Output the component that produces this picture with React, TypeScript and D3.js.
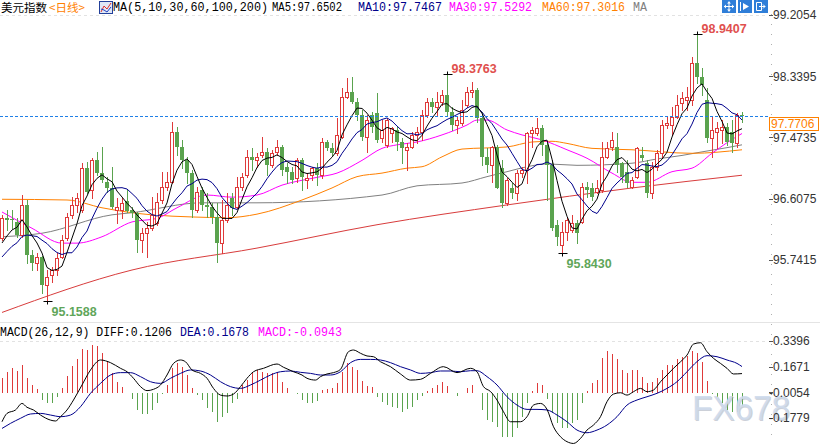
import React from 'react';
import * as d3 from 'd3';

const W = 820;
const H = 444;

// daily bars, left to right: [open, high, low, close]
const ohlc: [number, number, number, number][] = [
  [96.05, 96.38, 96.02, 96.33], [96.33, 96.45, 96.17, 96.31], [96.32, 96.45, 96.19, 96.30], [96.28, 96.33, 96.07, 96.10],
  [96.10, 96.66, 96.07, 96.52], [96.52, 96.59, 95.70, 95.81], [95.81, 95.88, 95.60, 95.70], [95.70, 95.84, 95.60, 95.78],
  [95.78, 95.80, 95.27, 95.39], [95.39, 95.60, 95.1588, 95.50], [95.53, 95.64, 95.43, 95.60], [95.60, 95.84, 95.53, 95.77],
  [95.78, 96.09, 95.77, 96.02], [96.05, 96.40, 96.02, 96.35], [96.38, 96.63, 96.33, 96.52], [96.52, 96.69, 96.42, 96.62],
  [96.45, 97.11, 96.42, 97.04], [97.04, 97.13, 96.69, 96.70], [96.73, 97.18, 96.62, 97.15], [97.15, 97.27, 96.94, 96.97],
  [96.97, 97.34, 96.84, 96.87], [96.84, 96.92, 96.70, 96.76], [96.76, 97.06, 96.48, 96.49], [96.45, 96.62, 96.26, 96.49],
  [96.45, 96.62, 96.33, 96.55], [96.58, 96.73, 96.42, 96.43], [96.45, 96.49, 96.35, 96.40], [96.40, 96.42, 95.85, 96.02],
  [96.02, 96.19, 95.85, 96.12], [96.12, 96.28, 95.78, 96.19], [96.19, 96.63, 96.17, 96.38], [96.26, 96.69, 96.24, 96.56],
  [96.59, 96.99, 96.55, 96.77], [96.77, 96.99, 96.73, 96.84], [96.84, 97.69, 96.83, 97.55], [97.55, 97.62, 97.23, 97.34],
  [97.34, 97.44, 97.04, 97.15], [97.15, 97.20, 96.83, 96.97], [96.97, 97.01, 96.35, 96.45], [96.45, 96.77, 96.42, 96.70],
  [96.73, 96.77, 96.45, 96.52], [96.52, 96.69, 96.35, 96.49], [96.49, 96.55, 96.26, 96.35], [96.35, 96.55, 95.71, 95.98],
  [95.98, 96.59, 95.84, 96.31], [96.31, 96.69, 96.28, 96.52], [96.62, 96.69, 96.38, 96.48], [96.49, 96.91, 96.48, 96.77],
  [96.77, 96.97, 96.73, 96.91], [96.94, 97.30, 96.91, 97.20], [97.20, 97.32, 97.01, 97.16], [97.16, 97.25, 97.06, 97.20],
  [97.23, 97.48, 97.20, 97.27], [97.27, 97.32, 96.94, 97.08], [97.08, 97.30, 97.06, 97.25], [97.27, 97.44, 97.23, 97.34],
  [97.34, 97.37, 96.94, 97.01], [97.06, 97.11, 96.83, 96.99], [96.99, 97.06, 96.83, 96.87], [96.90, 97.18, 96.84, 97.15],
  [97.15, 97.18, 96.73, 96.91], [96.87, 96.97, 96.76, 96.90], [96.94, 97.06, 96.87, 97.04], [97.04, 97.11, 96.80, 96.94],
  [96.94, 97.47, 96.90, 97.41], [97.41, 97.44, 97.30, 97.33], [97.33, 97.40, 97.23, 97.25], [97.25, 97.75, 97.23, 97.51],
  [97.48, 98.17, 97.47, 98.05], [98.05, 98.32, 98.03, 98.12], [98.12, 98.33, 97.96, 97.98], [97.98, 98.03, 97.72, 97.79],
  [97.79, 97.86, 97.44, 97.48], [97.48, 97.79, 97.27, 97.72], [97.79, 97.83, 97.55, 97.62], [97.82, 98.10, 97.41, 97.44],
  [97.47, 97.72, 97.41, 97.58], [97.37, 97.75, 97.34, 97.72], [97.54, 97.62, 97.41, 97.61], [97.58, 97.62, 97.30, 97.41],
  [97.41, 97.47, 97.11, 97.33], [97.30, 97.40, 97.01, 97.34], [97.34, 97.55, 97.33, 97.51], [97.51, 97.62, 97.40, 97.55],
  [97.55, 97.86, 97.44, 97.79], [97.79, 98.03, 97.76, 97.98], [97.98, 98.03, 97.83, 97.90], [97.90, 98.12, 97.79, 97.98],
  [97.98, 98.15, 97.93, 98.07], [98.07, 98.3763, 97.79, 97.83], [97.83, 97.90, 97.58, 97.65], [97.65, 97.76, 97.54, 97.72],
  [97.68, 98.00, 97.65, 97.86], [97.93, 98.19, 97.90, 98.12], [98.12, 98.26, 98.05, 98.14], [98.14, 98.17, 97.69, 97.75],
  [97.75, 97.83, 97.08, 97.20], [97.20, 97.33, 96.99, 97.08], [97.08, 97.36, 96.84, 97.34], [97.34, 97.37, 96.76, 96.76],
  [97.04, 97.16, 96.49, 96.55], [96.55, 96.90, 96.52, 96.87], [96.76, 96.83, 96.62, 96.69], [96.69, 97.01, 96.59, 96.97],
  [96.97, 97.06, 96.91, 97.01], [97.01, 97.55, 96.83, 97.54], [97.54, 97.62, 97.34, 97.58], [97.54, 97.75, 97.51, 97.61],
  [97.61, 97.65, 97.23, 97.37], [97.37, 97.40, 96.59, 97.08], [97.08, 97.15, 96.17, 96.20], [96.24, 96.31, 95.95, 96.07],
  [95.95, 96.28, 95.843, 96.14], [96.14, 96.35, 96.02, 96.31], [96.17, 96.38, 96.14, 96.26], [96.26, 96.31, 95.98, 96.12],
  [96.28, 96.83, 96.26, 96.77], [96.77, 96.84, 96.63, 96.73], [96.76, 96.83, 96.59, 96.63], [96.70, 96.87, 96.69, 96.76],
  [96.73, 97.41, 96.70, 97.20], [97.20, 97.41, 97.18, 97.32], [97.34, 97.55, 97.30, 97.44], [97.34, 97.54, 96.99, 97.08],
  [97.11, 97.13, 96.84, 96.91], [96.99, 97.16, 96.77, 96.83], [96.77, 96.91, 96.76, 96.87], [96.91, 97.34, 96.90, 97.32],
  [97.23, 97.34, 97.15, 97.18], [97.11, 97.16, 96.63, 96.69], [96.69, 97.13, 96.62, 97.06], [97.06, 97.30, 97.01, 97.25],
  [97.25, 97.72, 97.20, 97.65], [97.65, 97.76, 97.61, 97.68], [97.65, 97.90, 97.51, 97.76], [97.76, 98.07, 97.75, 97.93],
  [97.96, 98.12, 97.86, 98.03], [98.00, 98.19, 97.86, 98.05], [98.00, 98.61, 97.93, 98.53], [98.53, 98.9407, 98.24, 98.33],
  [98.33, 98.46, 98.07, 98.22], [98.00, 98.17, 97.41, 97.47], [97.47, 97.76, 97.20, 97.58], [97.55, 97.69, 97.33, 97.61],
  [97.58, 97.72, 97.40, 97.62], [97.62, 97.68, 97.37, 97.41], [97.55, 97.72, 97.27, 97.40], [97.40, 97.82, 97.34, 97.79],
  [97.79, 97.83, 97.69, 97.7706],
];

// closes of the bars just left of the window, only to seed MA5 / MA10
const priorCloses = [95.53, 95.57, 95.60, 95.63, 95.60, 95.81, 95.88, 95.91, 95.98];

// longer averages: [bar position, value]
const ma30: [number, number][] = [
  [0, 96.42], [6, 96.19], [12, 95.98], [15, 95.98], [20, 96.07], [26, 96.28], [31, 96.33], [35, 96.48],
  [41, 96.66], [46, 96.63], [51, 96.66], [56, 96.8], [63, 96.91], [67, 96.97], [72, 97.15], [76, 97.32],
  [79, 97.37], [83, 97.41], [88, 97.51], [93, 97.65], [95, 97.72], [97, 97.72], [101, 97.58], [104, 97.51],
  [108, 97.44], [113, 97.3], [117, 97.18], [122, 96.97], [126, 96.84], [129, 96.84], [134, 96.99], [138, 97.04],
  [142, 97.25], [145, 97.4], [148, 97.53],
];
const ma60: [number, number][] = [
  [0, 96.6], [13, 96.59], [20, 96.48], [26, 96.41], [30, 96.38], [38, 96.35], [45, 96.34], [51, 96.39],
  [60, 96.59], [66, 96.76], [71, 96.92], [76, 96.97], [81, 97.04], [84, 97.06], [88, 97.2], [92, 97.31],
  [101, 97.34], [106, 97.41], [110, 97.42], [113, 97.39], [118, 97.32], [126, 97.3], [138, 97.25], [148, 97.3],
];
const ma100: [number, number][] = [
  [0, 96.07], [8, 96.12], [22, 96.38], [26, 96.41], [40, 96.55], [51, 96.55], [76, 96.66], [83, 96.79],
  [92, 96.83], [97, 96.92], [101, 96.99], [105, 97.06], [109, 97.1], [115, 97.08], [126, 97.11], [131, 97.17],
  [136, 97.22], [140, 97.27], [145, 97.33], [148, 97.37],
];
const ma200: [number, number][] = [
  [0, 95.0], [26, 95.6], [51, 95.91], [75, 96.24], [101, 96.52], [126, 96.76], [148, 96.94],
];

// MACD(26,12,9) histogram, one per bar
const macdHist = [
  0.088, 0.133, 0.156, 0.14, 0.178, 0.088, 0.044, 0.017, -0.057, -0.075,
  -0.075, -0.04, 0.021, 0.104, 0.171, 0.216, 0.284, 0.28, 0.313, 0.306,
  0.261, 0.2, 0.122, 0.066, 0.033, -0.012, -0.053, -0.124, -0.151, -0.151,
  -0.124, -0.075, -0.017, 0.044, 0.156, 0.194, 0.167, 0.111, 0.021, -0.024,
  -0.057, -0.113, -0.135, -0.203, -0.169, -0.142, -0.08, -0.053, 0.044, 0.077,
  0.122, 0.145, 0.133, 0.122, 0.122, 0.133, 0.066, 0.021, -0.012, -0.017,
  -0.057, -0.075, -0.075, -0.062, 0.01, 0.017, 0.021, 0.055, 0.133, 0.189,
  0.167, 0.145, 0.073, 0.037, 0.033, -0.04, -0.068, -0.091, -0.106, -0.113,
  -0.139, -0.12, -0.106, -0.057, -0.03, 0.006, 0.021, 0.044, 0.066, 0.037,
  -0.008, -0.03, -0.012, 0.021, 0.044, -0.012, -0.124, -0.192, -0.203, -0.237,
  -0.308, -0.308, -0.308, -0.248, -0.169, -0.08, 0.006, 0.059, 0.044, -0.053,
  -0.147, -0.214, -0.248, -0.248, -0.214, -0.192, -0.08, 0.006, 0.055, 0.077,
  0.223, 0.275, 0.252, 0.216, 0.145, 0.122, 0.145, 0.145, 0.1, 0.059,
  0.066, 0.088, 0.145, 0.178, 0.178, 0.216, 0.234, 0.239, 0.275, 0.261,
  0.2, 0.073, -0.017, -0.04, -0.08, -0.124, -0.136, -0.136, -0.0943,
];
const diffLine: [number, number][] = [
  [0, -0.203], [1, -0.147], [2.7, -0.124], [4, -0.08], [5, -0.106], [6.3, -0.124], [7.7, -0.158], [9.7, -0.192],
  [10.7, -0.198], [11.7, -0.169], [13, -0.124], [14.3, -0.057], [16, 0.044], [17.7, 0.145], [19.7, 0.212], [21.7, 0.194],
  [23.7, 0.156], [25, 0.133], [26.3, 0.089], [27.7, 0.033], [29, 0.006], [30.3, 0.015], [31.7, 0.044], [33, 0.111],
  [34.3, 0.189], [35.7, 0.212], [36.7, 0.2], [38, 0.145], [39.7, 0.122], [41, 0.089], [42.3, 0.021], [43.7, -0.024],
  [45, -0.03], [46.3, -0.017], [47.7, 0.033], [49, 0.089], [50.3, 0.133], [52.3, 0.156], [55, 0.185], [56.3, 0.163],
  [58.3, 0.133], [60, 0.111], [61, 0.089], [62.7, 0.077], [63.7, 0.1], [65, 0.118], [66.3, 0.127], [67.7, 0.149],
  [69.3, 0.268], [70.3, 0.279], [71.7, 0.257], [73, 0.239], [74.3, 0.234], [75.7, 0.2], [77.7, 0.167], [79.7, 0.118],
  [81.7, 0.077], [83.7, 0.082], [85.7, 0.122], [88.3, 0.167], [91, 0.127], [93.7, 0.156], [95, 0.133], [96.3, 0.033],
  [97.7, 0], [99, -0.057], [100.3, -0.136], [101.7, -0.203], [103.7, -0.203], [105, -0.169], [106.3, -0.091], [107.7, -0.08],
  [109, -0.12], [110.3, -0.237], [111.7, -0.304], [113, -0.337], [114.3, -0.349], [115.7, -0.315], [117, -0.259], [118.3, -0.225],
  [119.7, -0.169], [121, -0.068], [122.3, -0.017], [123.7, -0.008], [125, -0.024], [126.3, -0.001], [127.7, 0.021], [129, -0.001],
  [130.3, 0.01], [131.7, 0.066], [133, 0.111], [134.3, 0.156], [135.7, 0.2], [137, 0.245], [138.3, 0.319], [139.7, 0.328],
  [141, 0.268], [142.3, 0.223], [143.7, 0.189], [145, 0.156], [146.3, 0.118], [148, 0.1206],
];
const deaLine: [number, number][] = [
  [0, -0.248], [1.7, -0.214], [3.7, -0.18], [5.7, -0.151], [7.7, -0.147], [9.7, -0.158], [11.7, -0.169], [13.7, -0.158],
  [15.7, -0.102], [17.7, -0.012], [19.7, 0.055], [21.7, 0.111], [23.7, 0.127], [25.7, 0.127], [27.7, 0.1], [29.7, 0.066],
  [31.7, 0.055], [33.7, 0.089], [35.7, 0.122], [37.7, 0.145], [39.7, 0.138], [41.7, 0.111], [43.7, 0.066], [45.7, 0.033],
  [47.7, 0.021], [49.7, 0.044], [51.7, 0.077], [53.7, 0.111], [55.7, 0.133], [57.7, 0.138], [59.7, 0.129], [61.7, 0.122],
  [63.7, 0.111], [65.7, 0.111], [67.7, 0.133], [69.7, 0.194], [71.7, 0.216], [73.7, 0.216], [75.7, 0.212], [77.7, 0.194],
  [79.7, 0.167], [81.7, 0.145], [83.7, 0.122], [85.7, 0.127], [87.7, 0.138], [89.7, 0.138], [91.7, 0.133], [93.7, 0.14],
  [95, 0.14], [97, 0.1], [99, 0.044], [101, -0.035], [103, -0.091], [105, -0.12], [107, -0.12], [109, -0.124],
  [111, -0.158], [113, -0.203], [115, -0.259], [117, -0.277], [119, -0.259], [121, -0.225], [123, -0.169], [125, -0.091],
  [127, -0.057], [129, -0.035], [131, -0.012], [133, 0.021], [135, 0.066], [137, 0.133], [139, 0.201], [141, 0.241],
  [143, 0.234], [145, 0.212], [147, 0.189], [148, 0.1678],
];

const priceTicks = [99.2054, 98.3395, 97.4735, 96.6075, 95.7415];
const macdTicks = [0.3396, 0.1671, -0.0054, -0.1779];
const lastPrice = 97.7706;

// bars whose extreme gets a label
const extremes = [
  { i: 139, kind: 'high' },
  { i: 89, kind: 'high' },
  { i: 9, kind: 'low' },
  { i: 112, kind: 'low' },
];

const UP = '#df3a3a';
const DOWN = '#5aa34e';
const MONO = '"Liberation Mono", "DejaVu Sans Mono", monospace';
const SANS = '"Liberation Sans", Arial, sans-serif';
const CJK = '"Noto Sans CJK SC", sans-serif';

const x = d3.scaleLinear().domain([0, ohlc.length - 1]).range([2, 742]);
const y = d3.scaleLinear().domain([95.7415, 99.2054]).range([260, 15]);
const ym = d3.scaleLinear().domain([-0.1779, 0.3396]).range([418, 341]);

const closes = ohlc.map((d) => d[3]);

function movingAverage(n: number): number[] {
  const all = priorCloses.concat(closes);
  return closes.map((_, i) => {
    const end = i + priorCloses.length;
    const start = Math.max(0, end - n + 1);
    return d3.mean(all.slice(start, end + 1)) as number;
  });
}

const ma5 = movingAverage(5);
const ma10 = movingAverage(10);

const barLine = d3.line<number>().x((_, i) => x(i)).y((d) => y(d));
const knotLine = d3.line<[number, number]>().x((d) => x(d[0])).y((d) => y(d[1])).curve(d3.curveMonotoneX);
const macdLine = d3.line<[number, number]>().x((d) => x(d[0])).y((d) => ym(d[1])).curve(d3.curveMonotoneX);

const col = (i: number) => Math.round(x(i));

function Candles() {
  return (
    <g shapeRendering="crispEdges">
      {ohlc.map(([o, h, l, c], i) => {
        const up = c >= o;
        const cx = col(i);
        const top = Math.round(y(Math.max(o, c)));
        const bot = Math.round(y(Math.min(o, c)));
        const color = up ? UP : DOWN;
        return (
          <g key={i}>
            <line x1={cx + 0.5} x2={cx + 0.5} y1={Math.round(y(h))} y2={Math.round(y(l)) + 1} stroke={color} />
            {up ? (
              <rect x={cx - 1.5} y={top + 0.5} width={3} height={Math.max(bot - top, 1)} fill="#fff" stroke={color} />
            ) : (
              <rect x={cx - 2} y={top} width={4} height={Math.max(bot - top, 1)} fill={color} />
            )}
          </g>
        );
      })}
    </g>
  );
}

function Extremes() {
  return (
    <g>
      {extremes.map(({ i, kind }) => {
        const v = kind === 'high' ? ohlc[i][1] : ohlc[i][2];
        const cx = col(i) + 0.5;
        const py = Math.round(y(v)) + 0.5;
        const isHigh = kind === 'high';
        return (
          <g key={i}>
            <line x1={cx - 4} x2={cx + 5} y1={py} y2={py} stroke="#000" />
            <line x1={cx} x2={cx} y1={isHigh ? py - 3 : py} y2={isHigh ? py : py + 3} stroke="#000" />
            <text
              x={cx + 4}
              y={isHigh ? py - 1.5 : py + 14}
              fontFamily={SANS}
              fontSize={12.5}
              fill={isHigh ? '#e0504e' : '#5fa65a'}
              fontWeight="bold"
            >
              {v.toFixed(4)}
            </text>
          </g>
        );
      })}
    </g>
  );
}

function TitleBar() {
  return (
    <g>
      <text x={1} y={11.5} fontFamily={CJK} fontSize={11.5} fill="#000">美元指数</text>
      <text x={49} y={11.5} fontFamily={CJK} fontSize={11.5} fill="#ff8000">&lt;日线&gt;</text>
      <rect x={99.5} y={1.5} width={13} height={12} fill="#dfe7f7" stroke="#23409a" />
      <polyline points="101,12 104,6 107,9 111,3" fill="none" stroke="#e0302a" />
      <polyline points="101,9 104,10 107,12 111,7" fill="none" stroke="#2040c0" />
      <text x={113} y={10.5} fontFamily={MONO} fontSize={12} textLength={155} lengthAdjust="spacingAndGlyphs" fill="#000">MA(5,10,30,60,100,200)</text>
      <text x={272} y={10.5} fontFamily={MONO} fontSize={12} textLength={70} lengthAdjust="spacingAndGlyphs" fill="#000">MA5:97.6502</text>
      <text x={358} y={10.5} fontFamily={MONO} fontSize={12} textLength={84} lengthAdjust="spacingAndGlyphs" fill="#00008b">MA10:97.7467</text>
      <text x={449} y={10.5} fontFamily={MONO} fontSize={12} textLength={83} lengthAdjust="spacingAndGlyphs" fill="#ff00ff">MA30:97.5292</text>
      <text x={542} y={10.5} fontFamily={MONO} fontSize={12} textLength={83} lengthAdjust="spacingAndGlyphs" fill="#ff8000">MA60:97.3016</text>
      <text x={633} y={10.5} fontFamily={MONO} fontSize={12} textLength={14} lengthAdjust="spacingAndGlyphs" fill="#808080">MA</text>
      {/* toolbar buttons */}
      <g shapeRendering="crispEdges">
        <rect x={722} y={0} width={14} height={13} fill="#2f7ed8" />
        <rect x={738} y={0} width={14} height={13} fill="#2f7ed8" />
        <rect x={754} y={0} width={14} height={13} fill="#2f7ed8" />
      </g>
      <path d="M724,6.5h10M729,1.5v10" stroke="#fff" />
      <path d="M724,6.5l2,-2v4zM734,6.5l-2,-2v4zM729,1.5l-2,2h4zM729,11.5l-2,-2h4z" fill="#fff" />
      <path d="M740.5,2v9" stroke="#fff" />
      <path d="M743,3L749,6.5L743,10Z" fill="#fff" />
      <path d="M756.5,2.5h5v8h-5z" fill="none" stroke="#fff" />
      <path d="M759,6.5h6M763,4.5l2,2l-2,2" fill="none" stroke="#fff" />
    </g>
  );
}

function PriceAxis() {
  return (
    <g fontFamily={SANS} fontSize={12} fill="#333">
      <line x1={771.5} x2={771.5} y1={14} y2={H} stroke="#b0b0b0" strokeDasharray="1,9" />
      {priceTicks.map((t) => (
        <g key={t}>
          <line x1={769} x2={773} y1={Math.round(y(t)) + 0.5} y2={Math.round(y(t)) + 0.5} stroke="#555" />
          <text x={773} y={y(t) + 4.3}>{t.toFixed(4)}</text>
        </g>
      ))}
      {macdTicks.map((t) => (
        <g key={t}>
          <line x1={769} x2={773} y1={Math.round(ym(t)) + 0.5} y2={Math.round(ym(t)) + 0.5} stroke="#555" />
          <text x={t < 0 ? 769 : 773} y={ym(t) + 4.3}>{t.toFixed(4)}</text>
        </g>
      ))}
    </g>
  );
}

export default function App() {
  const lastY = Math.round(y(lastPrice)) + 0.5;
  const zeroY = Math.round(ym(0)) + 0.5;
  return (
    <svg
      width={W}
      height={H}
      viewBox={`0 0 ${W} ${H}`}
      style={{ position: 'absolute', left: 0, top: 0, background: '#fff' }}
    >
      <rect width={W} height={H} fill="#fff" />
      <TitleBar />

      {/* light guides */}
      <line x1={0} x2={768} y1={Math.round(y(priceTicks[0])) + 0.5} y2={Math.round(y(priceTicks[0])) + 0.5} stroke="#e2e2e2" strokeDasharray="3,3" />
      <line x1={0} x2={768} y1={Math.round(ym(macdTicks[0])) + 0.5} y2={Math.round(ym(macdTicks[0])) + 0.5} stroke="#e2e2e2" strokeDasharray="3,3" />
      <line x1={0} x2={W} y1={322.5} y2={322.5} stroke="#e4e4e4" />

      {/* long averages behind the bars */}
      <path d={knotLine(ma200) || ''} fill="none" stroke="#d83c3c" />
      <path d={knotLine(ma100) || ''} fill="none" stroke="#808080" />
      <path d={knotLine(ma60) || ''} fill="none" stroke="#ff8000" />
      <path d={knotLine(ma30) || ''} fill="none" stroke="#ff00ff" />

      <Candles />

      <path d={barLine(ma10) || ''} fill="none" stroke="#00008b" />
      <path d={barLine(ma5) || ''} fill="none" stroke="#000" />

      {/* last price */}
      <line x1={0} x2={768} y1={lastY} y2={lastY} stroke="#1f7fe6" strokeDasharray="3,2" />

      <Extremes />

      {/* MACD pane */}
      <text y={336} fontFamily={MONO} fontSize={12}>
        <tspan x={0} fill="#000" textLength={172} lengthAdjust="spacingAndGlyphs">MACD(26,12,9) DIFF:0.1206</tspan>
        <tspan x={180} fill="#00008b" textLength={69} lengthAdjust="spacingAndGlyphs">DEA:0.1678</tspan>
        <tspan x={258} fill="#ff00ff" textLength={84} lengthAdjust="spacingAndGlyphs">MACD:-0.0943</tspan>
      </text>
      <g shapeRendering="crispEdges">
        {macdHist.map((v, i) => (
          <line
            key={i}
            x1={col(i) + 0.5}
            x2={col(i) + 0.5}
            y1={zeroY}
            y2={ym(v)}
            stroke={v >= 0 ? UP : DOWN}
          />
        ))}
      </g>
      <path d={macdLine(deaLine) || ''} fill="none" stroke="#00008b" />
      <path d={macdLine(diffLine) || ''} fill="none" stroke="#000" />

      {/* watermark, drawn under the axis labels */}
      <text x={693} y={421} fontFamily={SANS} fontSize={35} fill="#9aa3b3" opacity={0.5} textLength={98} lengthAdjust="spacingAndGlyphs">FX678</text>
      <text x={692} y={420} fontFamily={SANS} fontSize={35} fill="#cfdbec" opacity={0.9} textLength={98} lengthAdjust="spacingAndGlyphs">FX678</text>

      <PriceAxis />

      {/* last price tag */}
      <rect x={769.5} y={117.5} width={49} height={13} fill="#fff" stroke="#ff8000" />
      <text x={771} y={128.3} fontFamily={SANS} fontSize={12} fill="#ff8000">{lastPrice.toFixed(4)}</text>
    </svg>
  );
}
